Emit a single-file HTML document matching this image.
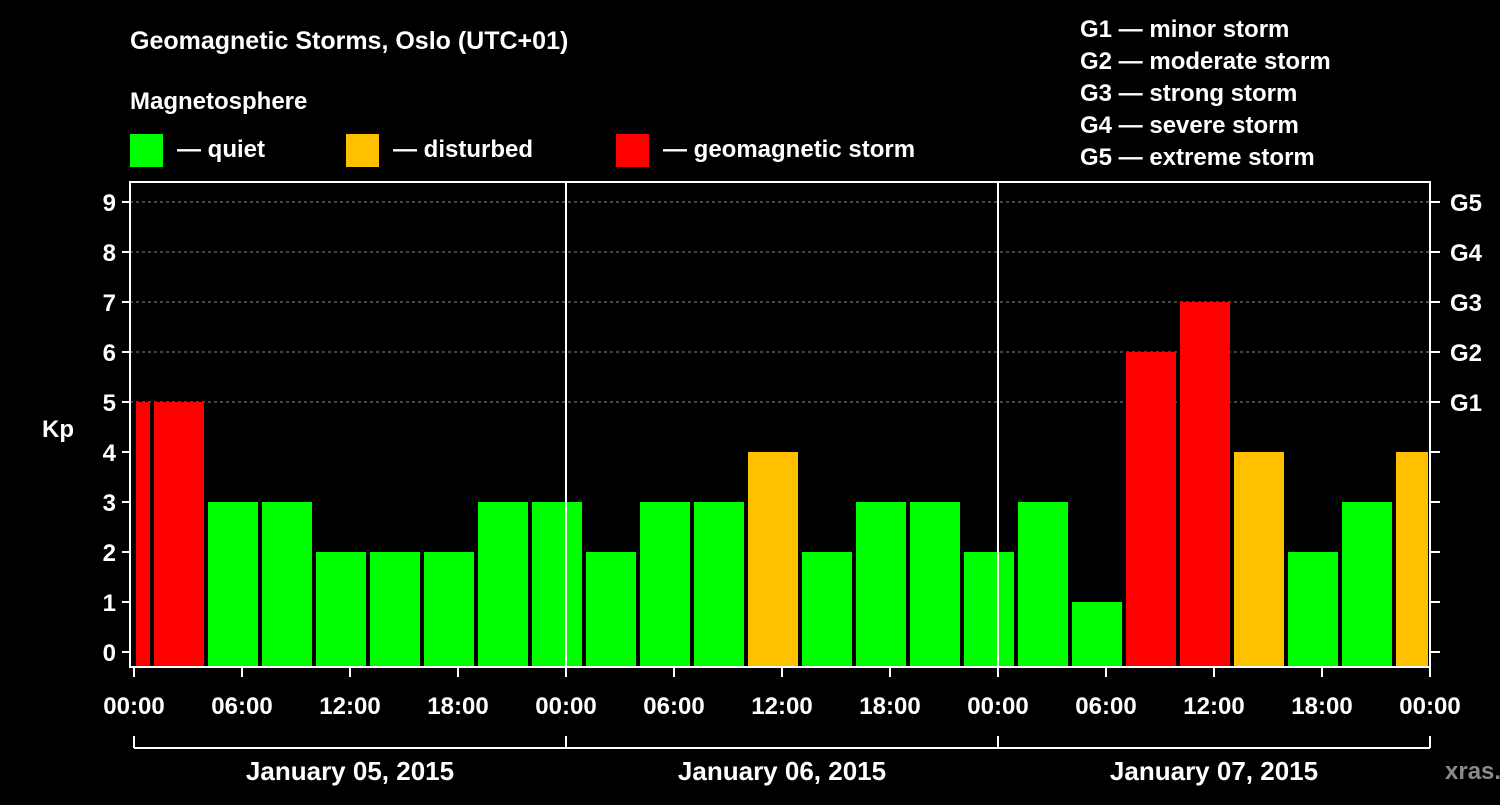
<!DOCTYPE html>
<html><head><meta charset="utf-8"><style>
body{margin:0;background:#000;width:1500px;height:800px;overflow:hidden}
text{font-family:"Liberation Sans",sans-serif;font-weight:bold;fill:#fff}
</style></head><body>
<svg id="c" width="1500" height="800">
<text x="130" y="49" font-size="25">Geomagnetic Storms, Oslo (UTC+01)</text>
<text x="130" y="109" font-size="24">Magnetosphere</text>
<g><rect x="130" y="134" width="33" height="33" fill="#00ff00"/><text x="177" y="157" font-size="24">— quiet</text></g>
<g><rect x="346" y="134" width="33" height="33" fill="#ffc000"/><text x="393" y="157" font-size="24">— disturbed</text></g>
<g><rect x="616" y="134" width="33" height="33" fill="#ff0000"/><text x="663" y="157" font-size="24">— geomagnetic storm</text></g>
<g font-size="24">
<text x="1080" y="37">G1 — minor storm</text>
<text x="1080" y="69">G2 — moderate storm</text>
<text x="1080" y="101">G3 — strong storm</text>
<text x="1080" y="133">G4 — severe storm</text>
<text x="1080" y="165">G5 — extreme storm</text>
</g>
<text x="42" y="437" font-size="24">Kp</text>
<text x="1445" y="779" font-size="24" fill="#888" style="fill:#8a8a8a">xras.ru</text>
<g id="plot"></g>
</svg>
<script>
const barStartHours=[0,1,4,7,10,13,16,19,22,25,28,31,34,37,40,43,46,49,52,55,58,61,64,67,70];
const barDurations=[1,3,3,3,3,3,3,3,3,3,3,3,3,3,3,3,3,3,3,3,3,3,3,3,2];
const kpValues=[5,5,3,3,2,2,2,3,3,2,3,3,4,2,3,3,2,3,1,6,7,4,2,3,4];
const xTickLabels=["00:00","06:00","12:00","18:00","00:00","06:00","12:00","18:00","00:00","06:00","12:00","18:00","00:00"];
const dayLabels=["January 05, 2015","January 06, 2015","January 07, 2015"];
const gLabels=["G1","G2","G3","G4","G5"];
const NS="http://www.w3.org/2000/svg";
const g=document.getElementById('plot');
const x=h=>134+h*18, y=v=>652-v*50;
function mk(t,a,txt){const e=document.createElementNS(NS,t);for(const k in a)e.setAttribute(k,a[k]);if(txt!==undefined)e.textContent=txt;g.appendChild(e);return e;}
for(let v=5;v<=9;v++){const e=mk('line',{x1:130,x2:1430,y1:y(v),y2:y(v),stroke:'#888','stroke-dasharray':'3,3'});

}
kpValues.forEach((v,i)=>{const c=v>=5?'#ff0000':v>=4?'#ffc000':'#00ff00';
const r=mk('rect',{x:x(barStartHours[i])+2,y:y(v),width:barDurations[i]*18-4,height:y(0)+15-y(v),fill:c});

});
const fr=mk('rect',{x:130,y:182,width:1300,height:485,fill:'none',stroke:'#fff','stroke-width':2});


[24,48].forEach(h=>{const l=mk('line',{x1:x(h),x2:x(h),y1:182,y2:667,stroke:'#fff','stroke-width':2});

});
for(let v=0;v<=9;v++){mk('line',{x1:122,x2:130,y1:y(v),y2:y(v),stroke:'#fff','stroke-width':2});
mk('line',{x1:1430,x2:1440,y1:y(v),y2:y(v),stroke:'#fff','stroke-width':2});
const t=mk('text',{x:116,y:y(v)+9,'font-size':24,'text-anchor':'end'},String(v));

}
gLabels.forEach((s,i)=>{const t=mk('text',{x:1450,y:y(i+5)+9,'font-size':24},s);

});
xTickLabels.forEach((s,i)=>{mk('line',{x1:x(i*6),x2:x(i*6),y1:667,y2:677,stroke:'#fff','stroke-width':2});
const t=mk('text',{x:x(i*6),y:714,'font-size':24,'text-anchor':'middle'},s);

});
mk('line',{x1:134,x2:1430,y1:748,y2:748,stroke:'#fff','stroke-width':2});
[0,24,48,72].forEach(h=>mk('line',{x1:x(h),x2:x(h),y1:736,y2:748,stroke:'#fff','stroke-width':2}));
dayLabels.forEach((s,i)=>{const t=mk('text',{x:x(i*24+12),y:780,'font-size':26,'text-anchor':'middle'},s);

});
</script>
</body></html>
